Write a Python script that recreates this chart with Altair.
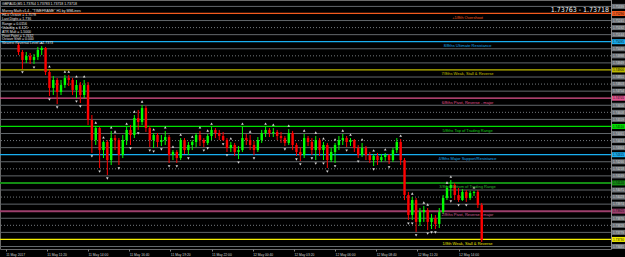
import altair as alt
import pandas as pd

# ---------------- data ----------------
OPEN = [1.75072, 1.75024, 1.74969, 1.74996, 1.74969, 1.74990, 1.75038, 1.75052, 1.74886, 1.74776,
        1.74831, 1.74748, 1.74796, 1.74845, 1.74831, 1.74762, 1.74796, 1.74727, 1.74796, 1.74555,
        1.74416, 1.74499, 1.74347, 1.74403, 1.74278, 1.74430, 1.74416, 1.74313, 1.74416, 1.74486,
        1.74451, 1.74568, 1.74541, 1.74637, 1.74499, 1.74416, 1.74451, 1.74403, 1.74416, 1.74437,
        1.74313, 1.74334, 1.74292, 1.74416, 1.74347, 1.74382, 1.74403, 1.74451, 1.74416, 1.74396,
        1.74444, 1.74486, 1.74465, 1.74444, 1.74416, 1.74361, 1.74382, 1.74334, 1.74347, 1.74430,
        1.74416, 1.74382, 1.74347, 1.74416, 1.74465, 1.74486, 1.74465, 1.74472, 1.74444, 1.74430,
        1.74396, 1.74465, 1.74382, 1.74334, 1.74313, 1.74430, 1.74403, 1.74347, 1.74416, 1.74347,
        1.74382, 1.74278, 1.74334, 1.74382, 1.74416, 1.74430, 1.74403, 1.74416, 1.74361, 1.74313,
        1.74361, 1.74313, 1.74278, 1.74306, 1.74278, 1.74299, 1.74313, 1.74278, 1.74347, 1.74403,
        1.74278, 1.74037, 1.73899, 1.74002, 1.73851, 1.73919, 1.73933, 1.73851, 1.73878, 1.73837,
        1.73919, 1.74016, 1.74085, 1.74106, 1.74037, 1.74002, 1.74058, 1.74016, 1.74051, 1.74058,
        1.73968]
HIGH = [1.75086, 1.75038, 1.75024, 1.75017, 1.75010, 1.75059, 1.75065, 1.75059, 1.74900, 1.74858,
        1.74845, 1.74831, 1.74865, 1.74865, 1.74845, 1.74831, 1.74817, 1.74831, 1.74817, 1.74589,
        1.74513, 1.74506, 1.74410, 1.74416, 1.74479, 1.74451, 1.74430, 1.74451, 1.74506, 1.74520,
        1.74589, 1.74624, 1.74658, 1.74651, 1.74513, 1.74465, 1.74465, 1.74451, 1.74479, 1.74451,
        1.74347, 1.74347, 1.74430, 1.74430, 1.74403, 1.74416, 1.74465, 1.74479, 1.74430, 1.74458,
        1.74506, 1.74499, 1.74486, 1.74472, 1.74430, 1.74403, 1.74396, 1.74375, 1.74506, 1.74458,
        1.74451, 1.74410, 1.74437, 1.74486, 1.74506, 1.74499, 1.74499, 1.74486, 1.74472, 1.74444,
        1.74492, 1.74479, 1.74396, 1.74368, 1.74458, 1.74444, 1.74430, 1.74444, 1.74430, 1.74403,
        1.74396, 1.74361, 1.74396, 1.74444, 1.74458, 1.74444, 1.74430, 1.74423, 1.74382, 1.74396,
        1.74375, 1.74334, 1.74320, 1.74327, 1.74320, 1.74327, 1.74320, 1.74361, 1.74430, 1.74423,
        1.74292, 1.74058, 1.74023, 1.74016, 1.73947, 1.73961, 1.73947, 1.73906, 1.73899, 1.73947,
        1.74037, 1.74099, 1.74140, 1.74120, 1.74085, 1.74078, 1.74071, 1.74065, 1.74065, 1.74071,
        1.73982]
LOW = [1.75003, 1.74907, 1.74948, 1.74941, 1.74941, 1.74969, 1.75003, 1.74865, 1.74720, 1.74727,
       1.74665, 1.74727, 1.74776, 1.74789, 1.74727, 1.74706, 1.74672, 1.74706, 1.74520, 1.74327,
       1.74382, 1.74223, 1.74292, 1.74175, 1.74244, 1.74347, 1.74244, 1.74292, 1.74382, 1.74382,
       1.74430, 1.74486, 1.74520, 1.74472, 1.74368, 1.74361, 1.74368, 1.74375, 1.74382, 1.74258,
       1.74278, 1.74258, 1.74278, 1.74320, 1.74313, 1.74347, 1.74368, 1.74375, 1.74368, 1.74382,
       1.74416, 1.74430, 1.74416, 1.74410, 1.74334, 1.74334, 1.74306, 1.74285, 1.74334, 1.74382,
       1.74347, 1.74313, 1.74334, 1.74396, 1.74437, 1.74437, 1.74437, 1.74416, 1.74396, 1.74375,
       1.74382, 1.74347, 1.74306, 1.74272, 1.74292, 1.74375, 1.74313, 1.74278, 1.74306, 1.74278,
       1.74223, 1.74265, 1.74258, 1.74347, 1.74382, 1.74368, 1.74375, 1.74334, 1.74292, 1.74299,
       1.74278, 1.74258, 1.74237, 1.74244, 1.74265, 1.74272, 1.74251, 1.74265, 1.74327, 1.74244,
       1.74002, 1.73864, 1.73864, 1.73782, 1.73823, 1.73851, 1.73795, 1.73802, 1.73802, 1.73809,
       1.73906, 1.74002, 1.74016, 1.74002, 1.73989, 1.73996, 1.73989, 1.74002, 1.74030, 1.73947,
       1.73712]
CLOSE = [1.75024, 1.74969, 1.74996, 1.74969, 1.74990, 1.75038, 1.75052, 1.74886, 1.74776, 1.74831,
         1.74748, 1.74796, 1.74845, 1.74831, 1.74762, 1.74796, 1.74727, 1.74796, 1.74555, 1.74416,
         1.74499, 1.74347, 1.74403, 1.74278, 1.74430, 1.74416, 1.74313, 1.74416, 1.74486, 1.74451,
         1.74568, 1.74541, 1.74637, 1.74499, 1.74416, 1.74451, 1.74403, 1.74416, 1.74437, 1.74313,
         1.74334, 1.74292, 1.74416, 1.74347, 1.74382, 1.74403, 1.74451, 1.74416, 1.74396, 1.74444,
         1.74486, 1.74465, 1.74444, 1.74416, 1.74361, 1.74382, 1.74334, 1.74347, 1.74430, 1.74416,
         1.74382, 1.74347, 1.74416, 1.74465, 1.74486, 1.74465, 1.74472, 1.74444, 1.74430, 1.74396,
         1.74465, 1.74382, 1.74334, 1.74313, 1.74430, 1.74403, 1.74347, 1.74416, 1.74347, 1.74382,
         1.74278, 1.74334, 1.74382, 1.74416, 1.74430, 1.74403, 1.74416, 1.74361, 1.74313, 1.74361,
         1.74313, 1.74278, 1.74306, 1.74278, 1.74299, 1.74313, 1.74278, 1.74347, 1.74403, 1.74278,
         1.74037, 1.73899, 1.74002, 1.73851, 1.73919, 1.73933, 1.73851, 1.73878, 1.73837, 1.73919,
         1.74016, 1.74085, 1.74106, 1.74037, 1.74002, 1.74058, 1.74016, 1.74051, 1.74058, 1.73968,
         1.73726]

FRACTAL_UP = [6, 8, 12, 13, 15, 17, 20, 22, 24, 25, 28, 30, 32, 35, 38, 40, 42, 45, 47, 49, 50,
              55, 58, 60, 64, 66, 70, 74, 77, 79, 82, 84, 86, 89, 92, 95, 99, 102, 105, 106,
              111, 112, 118]
FRACTAL_DOWN = [1, 4, 8, 10, 15, 16, 19, 21, 23, 26, 29, 31, 34, 35, 37, 39, 41, 44, 48, 49, 53,
                54, 57, 61, 69, 72, 73, 76, 77, 79, 80, 82, 85, 88, 92, 96, 101, 102, 103, 106,
                107, 108, 112, 114, 116]

TIME_LABELS = ["11 May 2017", "11 May 10:00", "11 May 11:20", "11 May 12:40", "11 May 14:00",
               "11 May 15:20", "11 May 16:40", "11 May 18:00", "11 May 19:20", "11 May 20:40",
               "11 May 22:00", "11 May 23:20", "12 May 00:40", "12 May 02:00", "12 May 03:20",
               "12 May 04:40", "12 May 06:00", "12 May 07:20", "12 May 08:40", "12 May 10:00",
               "12 May 11:20", "12 May 12:40", "12 May 14:00", "12 May 15:20"]
LABEL_STEP_MIN = 80

LEVEL_NAMES = ["1/8th Weak, Stall & Reverse", "2/8ths Pivot, Reverse - major",
               "3/8ths Bottom of Trading Range", "4/8ths Major Support/Resistance",
               "5/8ths Top of Trading Range", "6/8ths Pivot, Reverse - major",
               "7/8ths Weak, Stall & Reverse", "8/8ths Ultimate Resistance", "+1/8th Overshoot"]
LEVEL_PRICES = [1.73730, 1.73925, 1.74120, 1.74315, 1.74510, 1.74705, 1.74900, 1.75095, 1.75290]
LEVEL_COLORS = ["#f2ec00", "#9c3f6c", "#138c13", "#19aef0", "#00e000", "#e2548f", "#bdb800",
                "#19aef0", "#f25a1e"]
LABEL_COLORS = ["#e8e000", "#d0609a", "#30b830", "#19aef0", "#10d010", "#e2548f", "#c8c000",
                "#19aef0", "#f25a1e"]
LEVEL_WIDTHS = [1.3, 2, 2, 1.3, 1.3, 1.3, 1.3, 1.3, 1.2]
MM_STEP = 0.00195

HEADER = ["GBPAUD,M5  1.73764 1.73783 1.73718 1.73718",
          "Murrey Math v1.4 - \"TIMEFRAME\" H1 by MMLines",
          "HiLo Octave = 1.7578", "Last Digits = 1.736", "Range = 0.0156",
          "Volatility = 0.125", "ATR Mult = 1.5000", "Pivot Point = 1.7432",
          "Octave Shift = 0.000", "Nearest Reversal Level = 1.7373"]
HEADER_Y = [4, 10.7, 15, 19.3, 23.7, 28, 32, 35.7, 39.3, 43.3]
QUOTE = "1.73763 - 1.73718"

# ---------------- tables ----------------
origin = pd.Timestamp("2017-05-11 08:40")
times = pd.date_range("2017-05-11 09:30", periods=len(OPEN), freq="15min")
minutes = ((times - origin).total_seconds() / 60).astype(int)
candles = pd.DataFrame({"m": minutes, "open": OPEN, "high": HIGH, "low": LOW, "close": CLOSE})

fr_up = pd.DataFrame({"m": [minutes[i] for i in FRACTAL_UP], "p": [HIGH[i] for i in FRACTAL_UP]})
fr_dn = pd.DataFrame({"m": [minutes[i] for i in FRACTAL_DOWN], "p": [LOW[i] for i in FRACTAL_DOWN]})

levels = pd.DataFrame({"name": LEVEL_NAMES, "p": LEVEL_PRICES, "c": LEVEL_COLORS,
                       "lc": LABEL_COLORS, "w": LEVEL_WIDTHS, "m": [1795] * len(LEVEL_NAMES)})

grid_rows = []
for j in range(-1, 34):
    p = LEVEL_PRICES[0] + j * MM_STEP / 4
    if j % 4 == 0:
        kind, box, tc = "major", LEVEL_COLORS[j // 4], "#101010"
    elif j % 4 == 2:
        kind, box, tc = "dotted", "#6c7176", "#d8d8d8"
    else:
        kind, box, tc = "solid", "#6c7176", "#d8d8d8"
    grid_rows.append({"p": p, "kind": kind, "box": box, "tc": tc, "lab": f"{p:.5f}"})
grid = pd.DataFrame(grid_rows)

Y_SCALE = alt.Scale(domain=[1.73664, 1.75383], nice=False, zero=False)
X_SCALE = alt.Scale(domain=[-2.7, 2333], nice=False, zero=False)
label_expr = "[" + ",".join(f"'{s}'" for s in TIME_LABELS) + "][round(datum.value/%d)]" % LABEL_STEP_MIN
label_values = [LABEL_STEP_MIN * k for k in range(len(TIME_LABELS))]

def Y(field):
    return alt.Y(field, scale=Y_SCALE, axis=None)

grey_solid = alt.Chart(grid).transform_filter("datum.kind == 'solid'").mark_rule(
    color="#62676b", strokeWidth=1).encode(y=Y("p:Q"))
grey_dot = alt.Chart(grid).transform_filter("datum.kind == 'dotted'").mark_rule(
    color="#74797d", strokeWidth=1, strokeDash=[1, 2]).encode(y=Y("p:Q"))
major = alt.Chart(levels).mark_rule().encode(
    y=Y("p:Q"), color=alt.Color("c:N", scale=None), strokeWidth=alt.StrokeWidth("w:Q", scale=None))

up_cond = "datum.close >= datum.open"
wicks = alt.Chart(candles).mark_rule(strokeWidth=1).encode(
    x=alt.X("m:Q", scale=X_SCALE, title=None,
            axis=alt.Axis(values=label_values, labelExpr=label_expr, labelAlign="left",
                          labelFontSize=3.3, labelColor="#d0d0d0", labelFont="Liberation Sans",
                          tickSize=2, tickColor="#808080", domain=False, grid=False,
                          labelPadding=1, labelOverlap=False, labelFlush=False)),
    y=Y("low:Q"), y2="high:Q",
    color=alt.condition(up_cond, alt.value("#00ff00"), alt.value("#ff0000")))
bodies = alt.Chart(candles).mark_bar(size=2.4).encode(
    x=alt.X("m:Q", scale=X_SCALE), y=Y("open:Q"), y2="close:Q",
    color=alt.condition(up_cond, alt.value("#00ff00"), alt.value("#ff0000")))

frac_u = alt.Chart(fr_up).mark_point(shape="triangle-up", filled=True, size=7, color="#d8d8d8",
                                     opacity=1, yOffset=-3.5).encode(
    x=alt.X("m:Q", scale=X_SCALE), y=Y("p:Q"))
frac_d = alt.Chart(fr_dn).mark_point(shape="triangle-down", filled=True, size=7, color="#d8d8d8",
                                     opacity=1, yOffset=3.5).encode(
    x=alt.X("m:Q", scale=X_SCALE), y=Y("p:Q"))

lvl_text = alt.Chart(levels).mark_text(fontSize=4, dy=4.3, align="center", baseline="middle",
                                       font="Liberation Sans").encode(
    x=alt.X("m:Q", scale=X_SCALE), y=Y("p:Q"), text="name:N", color=alt.Color("lc:N", scale=None))

hdr = alt.Chart(pd.DataFrame({"t": HEADER, "yy": HEADER_Y})).mark_text(
    fontSize=3.5, align="left", baseline="middle", color="#e6e6e6", font="Liberation Sans").encode(
    x=alt.value(2), y=alt.Y("yy:Q", scale=alt.Scale(domain=[0, 249], range=[0, 249]), axis=None),
    text="t:N")
quote = alt.Chart(pd.DataFrame({"t": [QUOTE]})).mark_text(
    fontSize=7, align="right", baseline="middle", color="#f0f0f0",
    font="Liberation Sans Narrow, DejaVu Sans Condensed, Liberation Sans").encode(
    x=alt.value(609), y=alt.value(9.5), text="t:N")

axis_box = alt.Chart(grid).mark_rule(strokeWidth=5).encode(
    x=alt.value(612), x2=alt.value(626), y=Y("p:Q"), color=alt.Color("box:N", scale=None))
axis_txt = alt.Chart(grid).mark_text(fontSize=3, align="left", baseline="middle",
                                     font="Liberation Sans").encode(
    x=alt.value(613), y=Y("p:Q"), text="lab:N", color=alt.Color("tc:N", scale=None))
axis_sep = alt.Chart(grid).mark_rule(color="#8a8a8a", strokeWidth=1).encode(
    x=alt.value(611.5), y=alt.value(0), y2=alt.value(249))

chart = alt.layer(
    grey_solid, grey_dot, major, wicks, bodies, frac_u, frac_d, lvl_text, hdr, quote,
    axis_box, axis_txt, axis_sep
).resolve_scale(y="independent").properties(
    width=611, height=249, background="#000000",
    padding={"left": 0, "top": 0, "right": 14, "bottom": 8},
    autosize=alt.AutoSizeParams(type="none"),
).configure_view(stroke="#6a6a6a", strokeWidth=1)

chart.save("out.html", embed_options={"renderer": "svg", "actions": False})
